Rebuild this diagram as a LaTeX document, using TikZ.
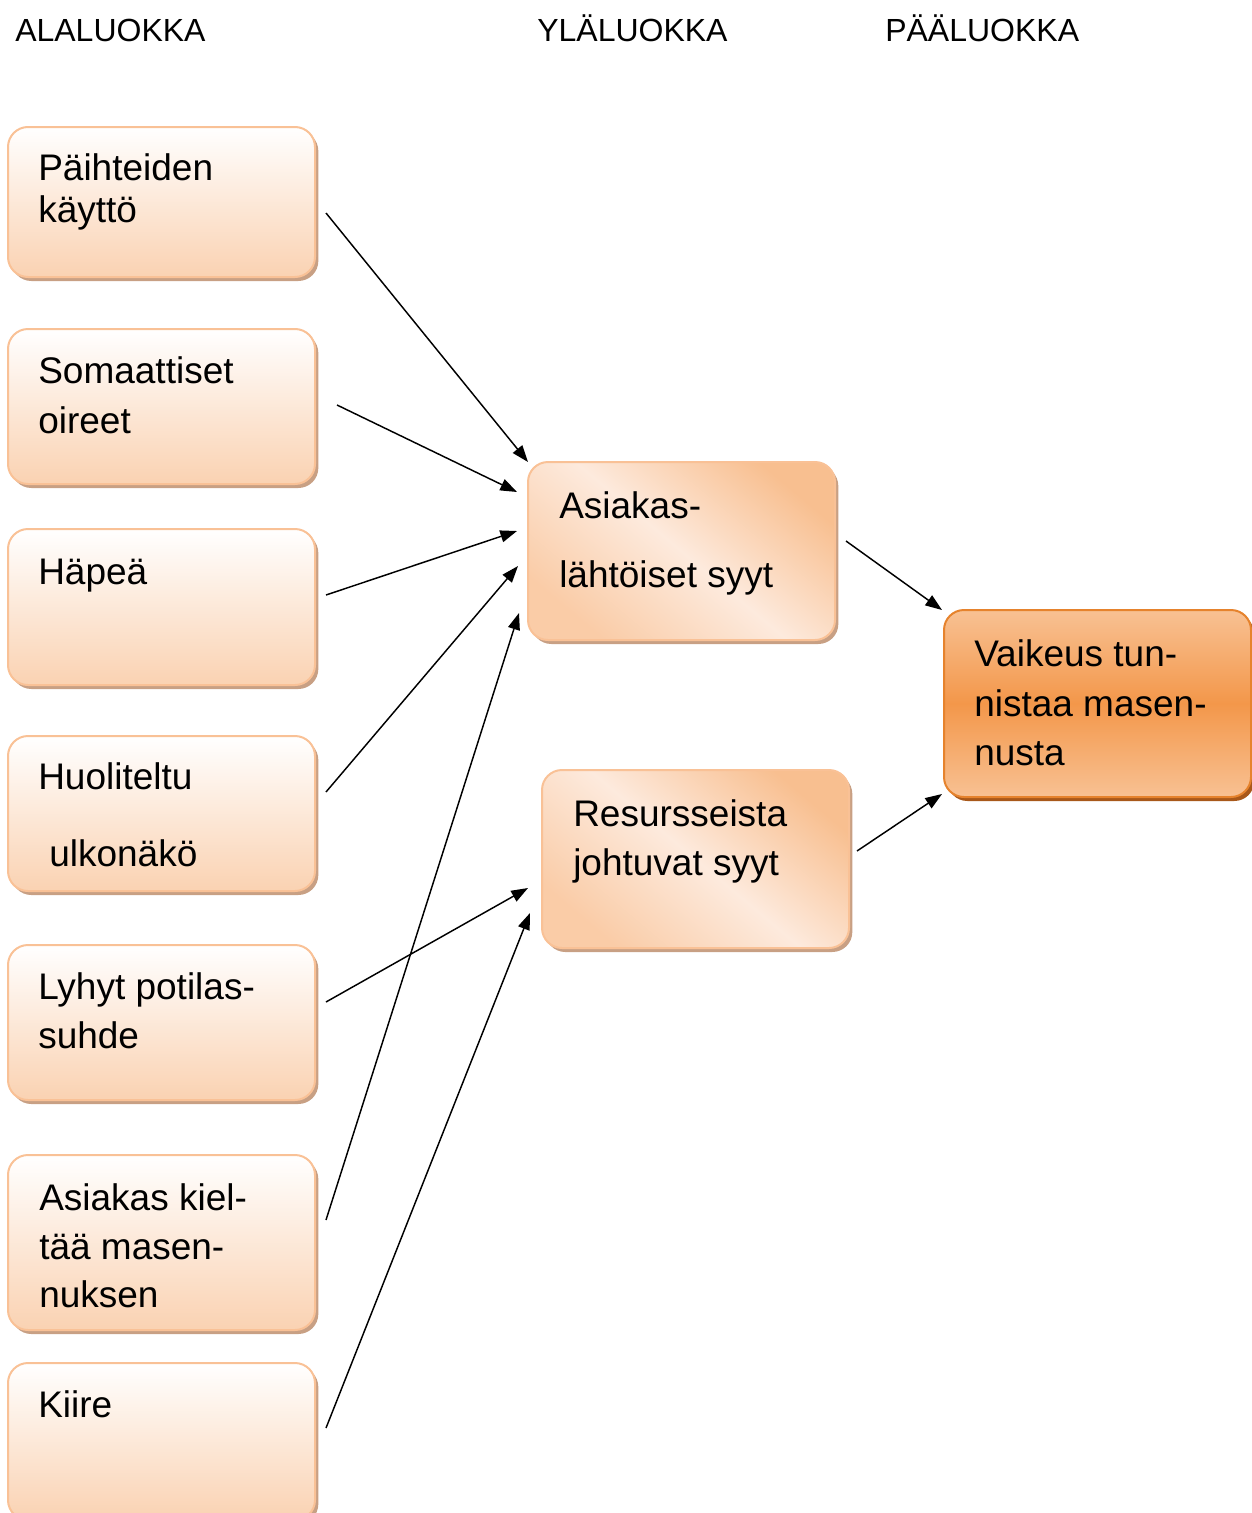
\documentclass[tikz,border=0pt]{standalone}
\usepackage{fontspec}
\setmainfont{Liberation Sans}
\usetikzlibrary{arrows.meta,shadows}
\definecolor{pborder}{HTML}{F9C196}
\definecolor{pbottom}{HTML}{FAD2B2}
\definecolor{pshadow}{HTML}{C8A084}
\definecolor{mdark}{HTML}{F8BF90}
\definecolor{mlight}{HTML}{FDEADD}
\definecolor{otop}{HTML}{F8C193}
\definecolor{omid}{HTML}{F3974A}
\definecolor{oborder}{HTML}{E6832D}
\definecolor{oshadow}{HTML}{A8581A}
\tikzset{
  box/.style={rectangle, rounded corners=15pt, line width=1.5pt, inner sep=0pt, minimum width=230.25pt},
  lbox/.style={box, draw=pborder, top color=white, bottom color=pbottom,
    drop shadow={shadow xshift=2.5pt, shadow yshift=-3pt, fill=pshadow, opacity=1}},
  mbox/.style={box, draw=pborder, top color=mdark, bottom color=mdark!70!mlight, middle color=mlight, shading angle=-40,
    drop shadow={shadow xshift=2.5pt, shadow yshift=-3pt, fill=pshadow, opacity=1}},
  obox/.style={box, draw=oborder, top color=otop, bottom color=otop, middle color=omid,
    drop shadow={shadow xshift=2.5pt, shadow yshift=-3pt, fill=oshadow, opacity=1}},
  txt/.style={anchor=base west, inner sep=0pt, font=\fontsize{27.75}{33}\selectfont},
  hdr/.style={anchor=base west, inner sep=0pt, font=\fontsize{24}{28}\selectfont},
  arr/.style={-{Triangle[length=12.5pt,width=9pt]}, line width=1.1pt, black}
}
\begin{document}
\begin{tikzpicture}[x=0.75pt,y=-0.75pt]
\useasboundingbox (0,0) rectangle (1252,1513);
\clip (0,0) rectangle (1252,1513);
% headers
\node[hdr] (h1) at (15,42) {ALALUOKKA};
\node[hdr] (h2) at (537,42) {YLÄLUOKKA};
\node[hdr] (h3) at (885,42) {PÄÄLUOKKA};
% left boxes
\node[lbox, minimum height=112.5pt] (b1) at (161.5,202) {};
\node[lbox, minimum height=116.25pt] (b2) at (161.5,406.5) {};
\node[lbox, minimum height=117pt] (b3) at (161.5,607) {};
\node[lbox, minimum height=116.25pt] (b4) at (161.5,813.5) {};
\node[lbox, minimum height=116.25pt] (b5) at (161.5,1022.5) {};
\node[lbox, minimum height=131.25pt] (b6) at (161.5,1242.5) {};
\node[lbox, minimum height=117.75pt] (b7) at (161.5,1441.5) {};
% middle boxes
\node[mbox, minimum height=133.5pt] (m1) at (681.5,551) {};
\node[mbox, minimum height=133.5pt] (m2) at (695.5,859) {};
% right box
\node[obox, minimum height=140.25pt] (r) at (1097.5,703.5) {};
% texts
\node[txt] (t1a) at (38,180) {Päihteiden};
\node[txt] (t1b) at (38,222) {käyttö};
\node[txt] (t2a) at (38,383) {Somaattiset};
\node[txt] (t2b) at (38,433) {oireet};
\node[txt] (t3a) at (38,584) {Häpeä};
\node[txt] (t4a) at (38,789) {Huoliteltu};
\node[txt] (t4b) at (49,866) {ulkonäkö};
\node[txt] (t5a) at (38,999) {Lyhyt potilas-};
\node[txt] (t5b) at (38,1048) {suhde};
\node[txt] (t6a) at (39,1210) {Asiakas kiel-};
\node[txt] (t6b) at (39,1259) {tää masen-};
\node[txt] (t6c) at (39,1307) {nuksen};
\node[txt] (t7a) at (38,1417) {Kiire};
\node[txt] (m1a) at (559,518) {Asiakas-};
\node[txt] (m1b) at (559,587) {lähtöiset syyt};
\node[txt] (m2a) at (573,826) {Resursseista};
\node[txt] (m2b) at (573,875) {johtuvat syyt};
\node[txt] (ra) at (974,666) {Vaikeus tun-};
\node[txt] (rb) at (974,716) {nistaa masen-};
\node[txt] (rc) at (974,765) {nusta};
% connector ends
\coordinate (s1) at (326,213);  \coordinate (e1) at (528,462);
\coordinate (s2) at (337,405);  \coordinate (e2) at (517,492);
\coordinate (s3) at (326,595);  \coordinate (e3) at (517,531);
\coordinate (s4) at (326,792);  \coordinate (e4) at (518,566);
\coordinate (s5) at (326,1002); \coordinate (e5) at (528,888);
\coordinate (s6) at (326,1220); \coordinate (e6) at (519,613);
\coordinate (s7) at (326,1428); \coordinate (e7) at (530,913);
\coordinate (sm1) at (846,541); \coordinate (em1) at (942,610);
\coordinate (sm2) at (857,851); \coordinate (em2) at (942,794);
\draw[arr] (s1) -- (e1);
\draw[arr] (s2) -- (e2);
\draw[arr] (s3) -- (e3);
\draw[arr] (s4) -- (e4);
\draw[arr] (s5) -- (e5);
\draw[arr] (s6) -- (e6);
\draw[arr] (s7) -- (e7);
\draw[arr] (sm1) -- (em1);
\draw[arr] (sm2) -- (em2);
\end{tikzpicture}
\end{document}
